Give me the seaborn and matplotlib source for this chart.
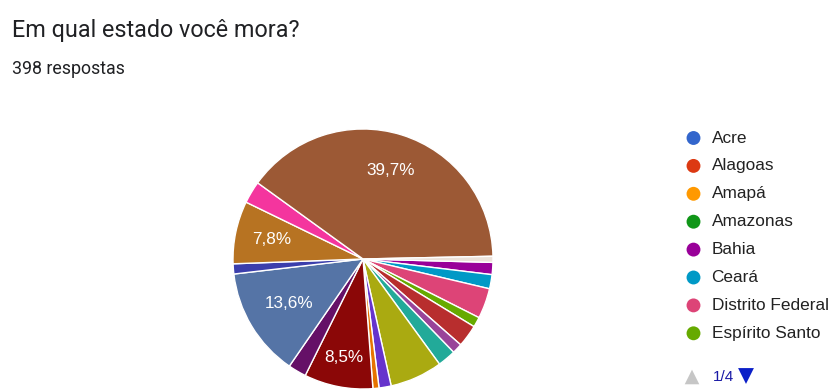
import matplotlib
matplotlib.use("Agg")
import matplotlib.pyplot as plt
import seaborn as sns
import numpy as np

# Survey answers: "Em qual estado você mora?" (398 respostas)
states = ["Acre", "Alagoas", "Amapá", "Amazonas", "Bahia", "Ceará",
          "Distrito Federal", "Espírito Santo", "Goiás", "Maranhão",
          "Mato Grosso", "Mato Grosso do Sul", "Minas Gerais", "Pará",
          "Paraíba", "Paraná", "Pernambuco", "Piauí", "Rio de Janeiro",
          "Rio Grande do Norte", "Rio Grande do Sul", "Rondônia", "Roraima",
          "Santa Catarina", "São Paulo", "Sergipe", "Tocantins"]
responses = [0, 0, 0, 0, 6, 7,
             15, 5, 11, 0,
             5, 9, 26, 6,
             3, 34, 9, 0, 54,
             5, 31, 0, 0,
             11, 158, 3, 0]
state_colors = ["#3366cc", "#dc3912", "#ff9900", "#109618", "#990099", "#0099c6",
                "#dd4477", "#66aa00", "#b82e2e", "#316395", "#994499", "#22aa99",
                "#aaaa11", "#6633cc", "#e67300", "#8b0707", "#651067", "#329262",
                "#5574a6", "#3b3eac", "#b77322", "#16d620", "#b91383", "#f4359e",
                "#9c5935", "#ece2da", "#2a778d"]

title = "Em qual estado você mora?"
subtitle = "398 respostas"
page_text = "1/4"
legend_page_size = 8

sns.set_theme(style="white")
plt.rcParams["font.family"] = ["Liberation Sans", "DejaVu Sans"]

palette = sns.color_palette(state_colors)
total = sum(responses)

W, H = 832, 392
fig = plt.figure(figsize=(W / 100, H / 100), dpi=100)
fig.patch.set_facecolor("white")

# overlay in pixel units for the header and the legend
ov = fig.add_axes([0, 0, 1, 1])
ov.set_xlim(0, W)
ov.set_ylim(H, 0)
ov.axis("off")

# pie
cx, cy, R = 363, 259, 130
ax = fig.add_axes([(cx - R) / W, (H - cy - R) / H, 2 * R / W, 2 * R / H])
shown = [i for i, v in enumerate(responses) if v > 0]
vals = [responses[i] for i in shown]
cols = [palette[i] for i in shown]
wedges, _ = ax.pie(vals, colors=cols, startangle=-1.5, counterclock=False,
                   wedgeprops=dict(edgecolor="white", linewidth=1.0))
ax.set_xlim(-1, 1)
ax.set_ylim(-1, 1)
ax.set_aspect("equal")
ax.axis("off")

label_radius = {"São Paulo": 0.715, "Rio Grande do Sul": 0.715,
                "Rio de Janeiro": 0.66, "Paraná": 0.77}
for w, i in zip(wedges, shown):
    pct = 100 * responses[i] / total
    if pct < 7:
        continue
    mid = np.deg2rad((w.theta1 + w.theta2) / 2)
    r = label_radius.get(states[i], 0.7)
    txt = f"{pct:.1f}%".replace(".", ",")
    ax.text(r * np.cos(mid), r * np.sin(mid), txt, ha="center", va="center",
            color="white", fontsize=12.3)

# header
ov.text(12, 37, title, fontsize=16.8, family=["Roboto", "DejaVu Sans"],
        color="#202124", va="baseline")
ov.text(12, 74, subtitle, fontsize=12.8, family=["Roboto", "DejaVu Sans"],
        color="#202124", va="baseline")

# legend, first page
for k in range(legend_page_size):
    y = 138 + 27.9 * k
    ov.scatter(693.5, y, s=100, color=palette[k], edgecolors="none")
    ov.text(711.5, y, states[k], va="center", ha="left", fontsize=12.4,
            color="#222222")

ov.scatter(692, 377, marker="^", s=110, color="#c6c6c6", edgecolors="none")
ov.text(713, 377, page_text, va="center", ha="left", fontsize=11,
        color="#1a1aa6")
ov.scatter(746, 376, marker="v", s=130, color="#0b1fc8", edgecolors="none")

fig.savefig("out.png", dpi=100, facecolor="white")
